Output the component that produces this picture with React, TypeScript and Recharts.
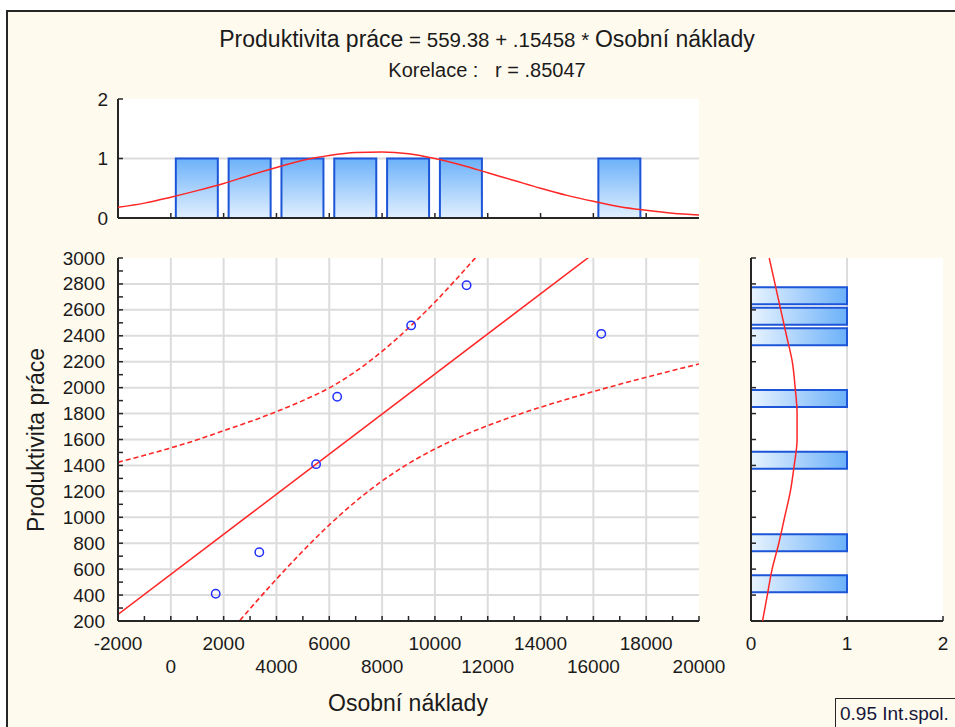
import React from 'react';
import { ComposedChart, Scatter, Line, Bar, XAxis, YAxis, CartesianGrid } from 'recharts';

// ---------------- data ----------------
// observations
const costValues = [1700, 3350, 5500, 6300, 9100, 11200, 16300]; // Osobní náklady
const productivityValues = [410, 730, 1410, 1930, 2480, 2790, 2415]; // Produktivita práce

// regression line end points
const fitX = [-2000, 20000];
const fitY = [250, 3651];

// 0.95 confidence band
const bandX = [-2000, -1000, 0, 1000, 2000, 3000, 4000, 5000, 6000, 7000, 8000, 9000, 10000, 11000, 12000, 13000, 14000, 15000, 16000, 17000, 18000, 19000, 20000];
const bandUpper = [1425, 1478, 1535, 1598, 1668, 1738, 1815, 1900, 1998, 2125, 2280, 2460, 2660, 2880, 3110, 3350, 3598, 3845, 4096, 4349, 4604, 4861, 5119];
const bandLower = [-938, -685, -434, -186, 58, 295, 523, 740, 941, 1122, 1280, 1414, 1527, 1624, 1707, 1781, 1849, 1911, 1970, 2026, 2080, 2132, 2183];

// top histogram (Osobní náklady)
const costBinCenters = [1000, 3000, 5000, 7000, 9000, 11000, 17000];
const costBinCounts = [1, 1, 1, 1, 1, 1, 1];
const costCurveX = [-2000, -1000, 0, 1000, 2000, 3000, 4000, 5000, 6000, 7000, 8000, 9000, 10000, 11000, 12000, 13000, 14000, 15000, 16000, 17000, 18000, 19000, 20000];
const costCurve = [0.18, 0.25, 0.35, 0.46, 0.58, 0.72, 0.85, 0.97, 1.05, 1.1, 1.11, 1.08, 1.0, 0.89, 0.76, 0.63, 0.5, 0.38, 0.28, 0.19, 0.13, 0.08, 0.05];

// side histogram (Produktivita práce)
const prodBinCenters = [489, 806, 1441, 1918, 2394, 2553, 2711];
const prodBinCounts = [1, 1, 1, 1, 1, 1, 1];
const prodCurveY = [200, 400, 600, 800, 1000, 1200, 1400, 1600, 1800, 2000, 2200, 2400, 2600, 2800, 3000];
const prodCurve = [0.12, 0.17, 0.22, 0.29, 0.35, 0.41, 0.45, 0.48, 0.48, 0.46, 0.43, 0.37, 0.31, 0.25, 0.19];

// ticks / grid
const xTicks = [-2000, -1000, 0, 1000, 2000, 3000, 4000, 5000, 6000, 7000, 8000, 9000, 10000, 11000, 12000, 13000, 14000, 15000, 16000, 17000, 18000, 19000, 20000];
const xLabelTicks = [-2000, 0, 2000, 4000, 6000, 8000, 10000, 12000, 14000, 16000, 18000, 20000];
const xGrid = [0, 2000, 4000, 6000, 8000, 10000, 12000, 14000, 16000, 18000];
const yTicks = [200, 300, 400, 500, 600, 700, 800, 900, 1000, 1100, 1200, 1300, 1400, 1500, 1600, 1700, 1800, 1900, 2000, 2100, 2200, 2300, 2400, 2500, 2600, 2700, 2800, 2900, 3000];
const yLabelTicks = [200, 400, 600, 800, 1000, 1200, 1400, 1600, 1800, 2000, 2200, 2400, 2600, 2800, 3000];
const yGrid = [400, 600, 800, 1000, 1200, 1400, 1600, 1800, 2000, 2200, 2400, 2600, 2800];
const costHistTicks = [0, 2000, 4000, 6000, 8000, 10000, 12000, 14000, 16000, 18000];
const countTicks = [0, 1, 2];
const prodHistTicks = [200, 400, 600, 800, 1000, 1200, 1400, 1600, 1800, 2000, 2200, 2400, 2600, 2800, 3000];

// ---------------- tables ----------------
const pointRows = costValues.map((x, i) => ({ x, y: productivityValues[i] }));
const mainRows = bandX.map((x, i) => ({
  x,
  upper: bandUpper[i],
  lower: bandLower[i],
  fit: fitX.indexOf(x) >= 0 ? fitY[fitX.indexOf(x)] : null,
}));
const costBinRows = costBinCenters.map((x, i) => ({ x, count: costBinCounts[i] }));
const costCurveRows = costCurveX.map((x, i) => ({ x, curve: costCurve[i] }));
const prodBinRows = prodBinCenters.map((y, i) => ({ y, count: prodBinCounts[i] }));
const prodCurveRows = prodCurveY.map((y, i) => ({ y, curve: prodCurve[i] }));

// ---------------- style ----------------
const FONT = '"Liberation Sans", Arial, Helvetica, sans-serif';
const INK = '#1b1b1b';
const FRAME = '#262626';
const CREAM = '#fffaee';
const GRID = '#dcdcdc';
const RED = '#ff2626';
const BLUE_PT = '#2030ff';
const BAR_STROKE = '#1c55d8';
const TICK_FS = 19;

const W = 955;
const H = 727;
const MAIN = { left: 118, right: 699, top: 258, bottom: 621 };
const TOP = { left: 118, right: 699, top: 99, bottom: 218 };
const SIDE = { left: 751, right: 943, top: 258, bottom: 621 };

type Side = 'bottom' | 'top' | 'left' | 'right';
type Lab = { text: string; dx: number; dy: number; anchor: 'start' | 'middle' | 'end' } | null;

function makeTick(side: Side, len: number, label?: (v: number) => Lab) {
  return (p: any) => {
    const v = Number(p?.payload?.value);
    const x = Number(p.x);
    const y = Number(p.y);
    let x2 = x;
    let y2 = y;
    if (side === 'bottom') y2 = y - len;
    else if (side === 'top') y2 = y + len;
    else if (side === 'left') x2 = x + len;
    else x2 = x - len;
    const lab = label ? label(v) : null;
    return (
      <g>
        {len > 0 && <line x1={x} y1={y} x2={x2} y2={y2} stroke={FRAME} strokeWidth={1.5} />}
        {lab && (
          <text x={x + lab.dx} y={y + lab.dy} textAnchor={lab.anchor} fontSize={TICK_FS} fontFamily={FONT} fill={INK}>
            {lab.text}
          </text>
        )}
      </g>
    );
  };
}

const axisLine = { stroke: FRAME, strokeWidth: 2 };
const common = { tickLine: false, tickSize: 0, tickMargin: 0, interval: 0 as const, axisLine, allowDataOverflow: true };
const silent = { tickLine: false, tickSize: 0, tickMargin: 0, axisLine: false, tick: false, allowDataOverflow: true };

const mainBottomTick = makeTick('bottom', 5, (v) => {
  const k = xLabelTicks.indexOf(v);
  return k >= 0 ? { text: String(v), dx: 0, dy: k % 2 ? 52 : 29, anchor: 'middle' } : null;
});
const mainLeftTick = makeTick('left', 5, (v) =>
  yLabelTicks.indexOf(v) >= 0 ? { text: String(v), dx: -13, dy: 6.5, anchor: 'end' } : null
);
const topTick = makeTick('top', 5);
const rightTick = makeTick('right', 5);
const bottomTick = makeTick('bottom', 5);
const leftTick = makeTick('left', 5);
const countLeftTick = makeTick('left', 5, (v) => ({ text: String(v), dx: -10, dy: 6.5, anchor: 'end' }));
const countBottomTick = makeTick('bottom', 5, (v) => ({ text: String(v), dx: 0, dy: 29, anchor: 'middle' }));

const circleShape = (p: any) => (
  <circle cx={p.cx} cy={p.cy} r={4.2} fill="none" stroke={BLUE_PT} strokeWidth={1.5} />
);

const layer: React.CSSProperties = { position: 'absolute', left: 0, top: 0, width: W, height: H };

export default function App() {
  return (
    <div style={{ position: 'absolute', left: 0, top: 0, width: W, height: H, background: '#ffffff', overflow: 'hidden', fontFamily: FONT }}>
      <div
        style={{
          position: 'absolute',
          left: 6,
          top: 10,
          width: W - 6,
          height: H - 10,
          boxSizing: 'border-box',
          background: CREAM,
          borderLeft: `2px solid ${FRAME}`,
          borderTop: `2px solid ${FRAME}`,
        }}
      />

      {/* top histogram: bars */}
      <div style={layer}>
        <ComposedChart width={W} height={H} data={costBinRows} margin={{ top: TOP.top, right: W - TOP.right, bottom: 0, left: 0 }}>
          <defs>
            <linearGradient id="topBarGrad" x1="0" y1="0" x2="0" y2="1">
              <stop offset="0%" stopColor="#6cb1f9" />
              <stop offset="100%" stopColor="#e2f0ff" />
            </linearGradient>
          </defs>
          <CartesianGrid fill="#ffffff" fillOpacity={1} stroke={GRID} strokeWidth={2} vertical={false} horizontalValues={[1]} />
          <XAxis dataKey="x" type="number" domain={[-2000, 20000]} ticks={costHistTicks} height={H - TOP.bottom} tick={bottomTick} {...common} />
          <XAxis xAxisId="t" orientation="top" type="number" domain={[-2000, 20000]} ticks={costHistTicks} height={0} tick={topTick} {...common} />
          <YAxis type="number" domain={[0, 2]} ticks={countTicks} width={TOP.left} tick={countLeftTick} {...common} />
          <YAxis yAxisId="r" orientation="right" type="number" domain={[0, 2]} ticks={[1]} width={0} tick={rightTick} {...common} />
          <Bar dataKey="count" barSize={42} fill="url(#topBarGrad)" stroke={BAR_STROKE} strokeWidth={2} isAnimationActive={false} />
        </ComposedChart>
      </div>
      {/* top histogram: normal curve */}
      <div style={layer}>
        <ComposedChart width={W} height={H} data={costCurveRows} margin={{ top: TOP.top, right: W - TOP.right, bottom: 0, left: 0 }}>
          <XAxis dataKey="x" type="number" domain={[-2000, 20000]} height={H - TOP.bottom} {...silent} />
          <YAxis type="number" domain={[0, 2]} width={TOP.left} {...silent} />
          <Line dataKey="curve" type="monotone" stroke={RED} strokeWidth={1.5} dot={false} isAnimationActive={false} />
        </ComposedChart>
      </div>

      {/* main scatter */}
      <div style={layer}>
        <ComposedChart width={W} height={H} data={mainRows} margin={{ top: MAIN.top, right: W - MAIN.right, bottom: 0, left: 0 }}>
          <CartesianGrid fill="#ffffff" fillOpacity={1} stroke={GRID} strokeWidth={2} horizontalValues={yGrid} verticalValues={xGrid} />
          <XAxis dataKey="x" type="number" domain={[-2000, 20000]} ticks={xTicks} height={H - MAIN.bottom} tick={mainBottomTick} {...common} />
          <XAxis xAxisId="t" orientation="top" type="number" domain={[-2000, 20000]} ticks={xTicks} height={0} tick={topTick} {...common} />
          <YAxis type="number" domain={[200, 3000]} ticks={yTicks} width={MAIN.left} tick={mainLeftTick} {...common} />
          <YAxis yAxisId="r" orientation="right" type="number" domain={[200, 3000]} ticks={yTicks} width={0} tick={rightTick} {...common} />
          <Line dataKey="upper" type="monotone" stroke={RED} strokeWidth={1.6} strokeDasharray="5 3" dot={false} isAnimationActive={false} />
          <Line dataKey="lower" type="monotone" stroke={RED} strokeWidth={1.6} strokeDasharray="5 3" dot={false} isAnimationActive={false} />
          <Line dataKey="fit" type="linear" stroke={RED} strokeWidth={1.5} dot={false} connectNulls isAnimationActive={false} />
          <Scatter data={pointRows} dataKey="y" shape={circleShape} isAnimationActive={false} />
        </ComposedChart>
      </div>

      {/* side histogram: bars */}
      <div style={layer}>
        <ComposedChart layout="vertical" width={W} height={H} data={prodBinRows} margin={{ top: SIDE.top, right: W - SIDE.right, bottom: 0, left: 0 }}>
          <defs>
            <linearGradient id="sideBarGrad" x1="0" y1="0" x2="1" y2="0">
              <stop offset="0%" stopColor="#e8f3ff" />
              <stop offset="100%" stopColor="#6cb1f9" />
            </linearGradient>
          </defs>
          <CartesianGrid fill="#ffffff" fillOpacity={1} stroke={GRID} strokeWidth={2} horizontal={false} verticalValues={[1]} />
          <XAxis type="number" domain={[0, 2]} ticks={countTicks} height={H - SIDE.bottom} tick={countBottomTick} {...common} />
          <XAxis xAxisId="t" orientation="top" type="number" domain={[0, 2]} ticks={countTicks} height={0} tick={topTick} {...common} />
          <YAxis dataKey="y" type="number" reversed domain={[200, 3000]} ticks={prodHistTicks} width={SIDE.left} tick={leftTick} {...common} />
          <YAxis yAxisId="r" orientation="right" type="number" reversed domain={[200, 3000]} ticks={prodHistTicks} width={0} tick={rightTick} {...common} />
          <Bar dataKey="count" barSize={17} fill="url(#sideBarGrad)" stroke={BAR_STROKE} strokeWidth={2} isAnimationActive={false} />
        </ComposedChart>
      </div>
      {/* side histogram: normal curve */}
      <div style={layer}>
        <ComposedChart layout="vertical" width={W} height={H} data={prodCurveRows} margin={{ top: SIDE.top, right: W - SIDE.right, bottom: 0, left: 0 }}>
          <XAxis type="number" domain={[0, 2]} height={H - SIDE.bottom} {...silent} />
          <YAxis dataKey="y" type="number" reversed domain={[200, 3000]} width={SIDE.left} {...silent} />
          <Line dataKey="curve" type="monotone" stroke={RED} strokeWidth={1.5} dot={false} isAnimationActive={false} />
        </ComposedChart>
      </div>

      {/* titles */}
      <svg style={layer} width={W} height={H}>
        <text x={487} y={47} textAnchor="middle" fontFamily={FONT} fill={INK} style={{ whiteSpace: 'pre' }}>
          <tspan fontSize={23}>Produktivita práce</tspan>
          <tspan fontSize={20.5}>{' = 559.38 + .15458 * '}</tspan>
          <tspan fontSize={23}>Osobní náklady</tspan>
        </text>
        <text x={487} y={77} textAnchor="middle" fontFamily={FONT} fontSize={20} fill={INK} style={{ whiteSpace: 'pre' }}>
          {'Korelace :   r = .85047'}
        </text>
        <text x={408} y={711} textAnchor="middle" fontFamily={FONT} fontSize={23} fill={INK}>
          Osobní náklady
        </text>
        <text x={44} y={440} transform="rotate(-90 44 440)" textAnchor="middle" fontFamily={FONT} fontSize={23} fill={INK}>
          Produktivita práce
        </text>
      </svg>

      {/* legend box */}
      <div
        style={{
          position: 'absolute',
          left: 835,
          top: 698,
          width: W - 835,
          height: H - 698,
          boxSizing: 'border-box',
          borderLeft: `1.5px solid ${FRAME}`,
          borderTop: `1.5px solid ${FRAME}`,
          background: CREAM,
          fontFamily: FONT,
          fontSize: 19,
          color: '#15153a',
          paddingLeft: 4,
          paddingTop: 4,
          whiteSpace: 'nowrap',
          lineHeight: '22px',
        }}
      >
        0.95 Int.spol.
      </div>
    </div>
  );
}
